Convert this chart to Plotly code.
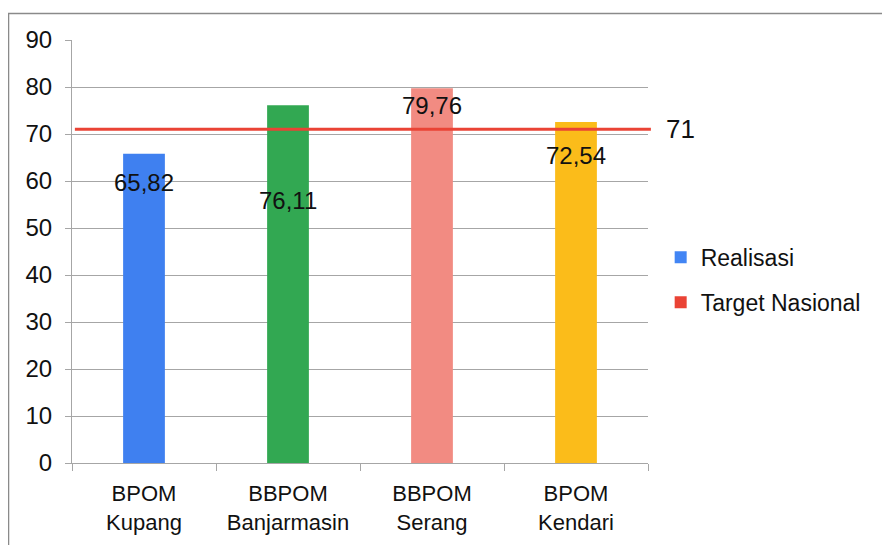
import plotly.graph_objects as go

categories = ["BPOM<br>Kupang", "BBPOM<br>Banjarmasin", "BBPOM<br>Serang", "BPOM<br>Kendari"]
realisasi = [65.82, 76.11, 79.76, 72.54]
value_labels = ["65,82", "76,11", "79,76", "72,54"]
target = 71
target_label = "71"
y_ticks = [0, 10, 20, 30, 40, 50, 60, 70, 80, 90]

bar_colors = ["#3f80f0", "#32a852", "#f28b82", "#fbbc1a"]
label_shift = [-29, -95, -17, -33]

FONT = "Liberation Sans, Arial, sans-serif"

fig = go.Figure()
fig.add_trace(go.Bar(
    x=categories, y=realisasi, width=0.29,
    marker=dict(color=bar_colors, line=dict(width=0)),
    showlegend=False, hoverinfo="x+y",
))
# legend entries
fig.add_trace(go.Scatter(x=[None], y=[None], mode="markers", name="Realisasi",
                         marker=dict(symbol="square", size=12, color="#4285f4"),
                         legendgroup="a"))
fig.add_trace(go.Scatter(x=[None], y=[None], mode="markers", name="Target Nasional",
                         marker=dict(symbol="square", size=12, color="#ea4335"),
                         legendgroup="b"))

# target line
fig.add_shape(type="line", xref="paper", yref="y", x0=0.005, x1=1.005,
              y0=target, y1=target, line=dict(color="#ea4335", width=3), layer="above")
fig.add_annotation(xref="paper", yref="y", x=1.057, y=target, text=target_label,
                   showarrow=False, xanchor="center", yanchor="middle",
                   font=dict(family=FONT, size=26, color="#111"))

for c, v, t, s in zip(categories, realisasi, value_labels, label_shift):
    fig.add_annotation(x=c, y=v, text=t, showarrow=False, yanchor="middle",
                       yshift=s, font=dict(family=FONT, size=24, color="#111"))

# outer border
fig.add_shape(type="rect", xref="paper", yref="paper", x0=-0.1102, x1=1.7,
              y0=-0.5, y1=1.0626, line=dict(color="#8a8a8a", width=1.5),
              fillcolor="rgba(0,0,0,0)", layer="below")

fig.update_layout(
    width=890, height=545,
    margin=dict(l=64, r=250, t=32, b=90),
    paper_bgcolor="white", plot_bgcolor="white",
    font=dict(family=FONT, size=22, color="#111"),
    bargap=0.71,
    legend=dict(x=1.022, y=0.433, xanchor="left", yanchor="middle",
                font=dict(family=FONT, size=23, color="#111"),
                tracegroupgap=12, itemwidth=30, bgcolor="rgba(0,0,0,0)"),
    yaxis=dict(range=[0, 90], tickvals=y_ticks, showgrid=True, gridcolor="#a6a6a6",
               gridwidth=1, showline=True, linecolor="#a6a6a6", linewidth=1,
               ticks="outside", ticklen=6, tickcolor="#a6a6a6",
               ticklabelstandoff=8, zeroline=False, automargin=False,
               tickfont=dict(family=FONT, size=24, color="#111")),
    xaxis=dict(showline=True, linecolor="#a6a6a6", linewidth=1, ticks="outside",
               tickson="boundaries", ticklen=7, tickcolor="#a6a6a6",
               ticklabelstandoff=11, automargin=False,
               showgrid=False, tickfont=dict(family=FONT, size=22, color="#111")),
)

fig.write_html("out.html")
